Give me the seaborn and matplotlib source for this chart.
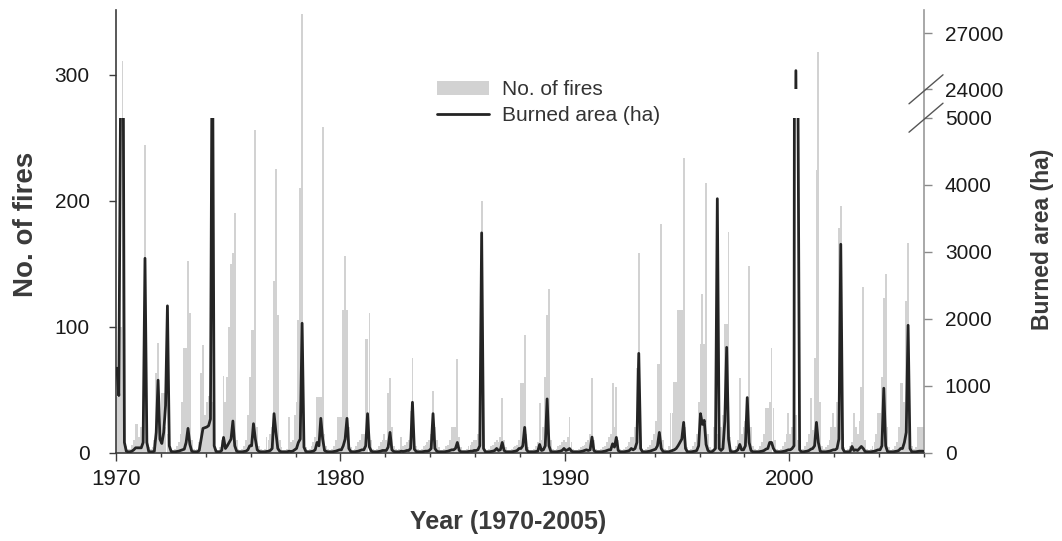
import matplotlib
matplotlib.use("Agg")
import matplotlib.pyplot as plt
import pandas as pd
import seaborn as sns
from matplotlib.patches import Patch
from matplotlib.lines import Line2D
from matplotlib.ticker import MultipleLocator

# ---------------- data (monthly, Jan..Dec, 1970-2005) ----------------
years = list(range(1970, 2006))
months = list(range(12))

fires = [
    44, 44, 100, 311, 20, 5, 3, 3, 6, 10, 23, 23,      # 1970
    12, 20, 30, 244, 15, 4, 3, 4, 10, 63, 87, 20,      # 1971
    47, 47, 20, 15, 6, 3, 2, 3, 5, 8, 15, 40,          # 1972
    83, 83, 152, 111, 10, 3, 2, 3, 8, 63, 85, 30,      # 1973
    40, 45, 50, 40, 8, 3, 2, 4, 10, 61, 40, 60,        # 1974
    100, 150, 158, 190, 10, 3, 2, 3, 5, 10, 30, 60,    # 1975
    97, 97, 256, 20, 5, 3, 2, 3, 12, 10, 15, 20,       # 1976
    136, 225, 109, 10, 4, 2, 2, 3, 28, 8, 10, 30,      # 1977
    40, 105, 210, 348, 20, 4, 2, 3, 5, 8, 12, 44,      # 1978
    44, 44, 258, 15, 5, 3, 2, 3, 5, 10, 28, 28,        # 1979
    28, 113, 156, 113, 20, 4, 2, 3, 5, 8, 10, 15,      # 1980
    15, 90, 90, 111, 10, 3, 2, 3, 5, 8, 10, 15,        # 1981
    10, 47, 59, 20, 5, 3, 2, 3, 12, 5, 6, 8,           # 1982
    10, 33, 75, 15, 5, 3, 2, 3, 5, 6, 8, 10,           # 1983
    15, 49, 20, 10, 4, 2, 2, 3, 5, 6, 10, 20,          # 1984
    20, 20, 74, 12, 4, 2, 2, 3, 5, 6, 8, 10,           # 1985
    10, 15, 25, 200, 10, 3, 2, 3, 5, 6, 8, 10,         # 1986
    8, 12, 43, 10, 4, 2, 2, 3, 4, 5, 6, 10,            # 1987
    55, 55, 93, 15, 4, 2, 2, 3, 5, 8, 39, 10,          # 1988
    20, 60, 109, 130, 10, 3, 2, 3, 5, 6, 8, 10,        # 1989
    8, 12, 28, 8, 3, 2, 2, 3, 4, 5, 6, 8,              # 1990
    10, 15, 59, 10, 3, 2, 2, 3, 4, 5, 8, 12,           # 1991
    15, 55, 20, 52, 10, 3, 2, 3, 4, 5, 8, 12,          # 1992
    12, 20, 67, 158, 10, 3, 2, 3, 4, 6, 10, 15,        # 1993
    25, 70, 70, 181, 10, 3, 2, 5, 31, 31, 56, 56,      # 1994
    113, 113, 113, 234, 20, 4, 2, 3, 5, 8, 15, 40,     # 1995
    86, 126, 86, 214, 15, 4, 3, 20, 22, 15, 10, 20,    # 1996
    30, 102, 102, 175, 12, 3, 2, 5, 10, 59, 15, 20,    # 1997
    25, 40, 148, 20, 5, 3, 2, 3, 5, 8, 15, 35,         # 1998
    35, 40, 83, 35, 10, 3, 2, 3, 5, 8, 15, 31,         # 1999
    15, 20, 25, 30, 10, 3, 2, 3, 5, 8, 15, 43,         # 2000
    18, 75, 224, 318, 40, 5, 3, 4, 6, 10, 20, 31,      # 2001
    20, 40, 178, 196, 15, 4, 2, 3, 5, 8, 31, 20,       # 2002
    15, 25, 52, 131, 10, 3, 2, 3, 5, 8, 15, 31,        # 2003
    31, 60, 123, 142, 20, 4, 2, 3, 5, 8, 20, 55,       # 2004
    55, 40, 120, 166, 20, 5, 3, 4, 20, 20, 20, 20,     # 2005
]

burned_area = [
    1260, 850, 5600, 9000, 150, 20, 10, 10, 20, 40, 70, 70,       # 1970
    70, 70, 150, 2900, 150, 15, 10, 10, 20, 300, 1080, 200,       # 1971
    135, 300, 700, 2190, 100, 15, 10, 10, 15, 20, 30, 40,         # 1972
    50, 150, 360, 120, 20, 10, 10, 10, 30, 200, 360, 370,         # 1973
    380, 400, 500, 7000, 100, 15, 10, 10, 30, 225, 60, 100,       # 1974
    150, 200, 470, 100, 20, 10, 10, 10, 15, 20, 40, 100,          # 1975
    100, 430, 200, 40, 15, 10, 10, 10, 15, 20, 30, 60,            # 1976
    580, 300, 60, 20, 10, 10, 10, 10, 20, 15, 20, 40,             # 1977
    60, 150, 200, 1930, 80, 15, 10, 10, 15, 20, 40, 150,          # 1978
    100, 510, 200, 30, 15, 10, 10, 10, 15, 20, 30, 40,            # 1979
    40, 100, 200, 510, 60, 15, 10, 10, 15, 20, 30, 40,            # 1980
    40, 100, 580, 80, 20, 10, 10, 10, 15, 20, 30, 30,             # 1981
    30, 80, 300, 40, 15, 10, 10, 10, 20, 15, 20, 30,              # 1982
    30, 60, 750, 50, 15, 10, 10, 10, 15, 20, 20, 30,              # 1983
    60, 580, 60, 20, 10, 10, 10, 10, 15, 20, 30, 40,              # 1984
    40, 60, 150, 30, 10, 10, 10, 10, 15, 20, 20, 30,              # 1985
    30, 40, 100, 3280, 60, 10, 10, 10, 15, 20, 30, 60,            # 1986
    30, 40, 150, 30, 10, 10, 10, 10, 15, 20, 30, 60,              # 1987
    60, 100, 375, 40, 10, 10, 10, 10, 15, 20, 120, 30,            # 1988
    40, 100, 800, 100, 15, 10, 10, 10, 15, 20, 30, 60,            # 1989
    30, 40, 60, 20, 10, 10, 10, 10, 15, 20, 30, 40,               # 1990
    30, 40, 230, 30, 10, 10, 10, 10, 15, 20, 30, 40,              # 1991
    40, 130, 80, 225, 30, 10, 10, 10, 15, 20, 30, 60,             # 1992
    40, 60, 150, 1480, 60, 10, 10, 10, 15, 20, 30, 40,            # 1993
    50, 100, 300, 60, 15, 10, 10, 10, 20, 30, 40, 60,             # 1994
    100, 150, 200, 450, 60, 10, 10, 10, 15, 20, 30, 100,          # 1995
    580, 420, 480, 120, 30, 10, 10, 30, 60, 3790, 60, 30,         # 1996
    60, 470, 1570, 200, 20, 10, 10, 20, 40, 120, 40, 40,          # 1997
    100, 820, 150, 30, 10, 10, 10, 10, 15, 20, 30, 50,            # 1998
    60, 150, 150, 60, 15, 10, 10, 10, 15, 20, 30, 40,             # 1999
    40, 60, 100, 25000, 6000, 40, 10, 10, 15, 20, 30, 50,         # 2000
    60, 100, 450, 150, 20, 10, 10, 10, 15, 20, 30, 40,            # 2001
    40, 60, 200, 3110, 60, 10, 10, 10, 15, 90, 30, 40,            # 2002
    30, 60, 90, 60, 15, 10, 10, 10, 15, 20, 30, 40,               # 2003
    40, 100, 960, 100, 15, 10, 10, 10, 15, 20, 30, 60,            # 2004
    60, 150, 300, 1900, 60, 10, 10, 10, 15, 20, 20, 20,           # 2005
]

year_ticks = [1970, 1980, 1990, 2000]
fire_ticks = [0, 100, 200, 300]
area_ticks_low = [0, 1000, 2000, 3000, 4000, 5000]
area_ticks_high = [24000, 27000]

time = [y + (m + 0.5) / 12 for y in years for m in months]
df = pd.DataFrame({"time": time, "fires": fires, "area": burned_area})

# ---------------- style ----------------
sns.set_style("white")
plt.rcParams["font.family"] = ["Liberation Sans", "DejaVu Sans"]

W, H = 1062, 541
fig = plt.figure(figsize=(W / 100, H / 100), dpi=100)


def fx(px):
    return px / W


def fy(py):
    return 1 - py / H


X0, X1 = 116, 924
Y0 = 452.5          # zero line
YTOP = 10
Y5000 = 117.7
Y24000 = 89.3

ax1 = fig.add_axes([fx(X0), fy(Y0), (X1 - X0) / W, (Y0 - YTOP) / H])
ax_lo = fig.add_axes([fx(X0), fy(Y0), (X1 - X0) / W, (Y0 - Y5000) / H])
ax_hi = fig.add_axes([fx(X0), fy(Y24000), (X1 - X0) / W, (Y24000 - YTOP) / H])

BAR = "#d2d2d2"
LINE = "#242424"
SPINE = "#3c3c3c"

sns.barplot(data=df, x="time", y="fires", native_scale=True, color=BAR,
            saturation=1, width=1.0, errorbar=None, linewidth=0, ax=ax1)
for a in (ax_lo, ax_hi):
    sns.lineplot(data=df, x="time", y="area", color=LINE, linewidth=2.0,
                 errorbar=None, ax=a, legend=False)

# ---- fires axis ----
ax1.set_xlim(1970, 2006)
ax1.set_ylim(0, (Y0 - YTOP) / 1.26)
ax1.set_xlabel("")
ax1.set_ylabel("")
ax1.set_yticks(fire_ticks)
ax1.set_yticklabels([str(v) for v in fire_ticks], fontsize=15, color="#1a1a1a")
ax1.set_xticks(year_ticks)
ax1.set_xticklabels([str(v) for v in year_ticks], fontsize=16, color="#1a1a1a")
ax1.xaxis.set_minor_locator(MultipleLocator(2))
ax1.tick_params(axis="y", which="major", direction="out", length=5, width=1,
                color=SPINE, pad=14, left=True, right=False)
ax1.tick_params(axis="x", which="major", direction="out", length=6, width=1,
                color=SPINE, pad=6, bottom=True)
ax1.tick_params(axis="x", which="minor", direction="out", length=3, width=1,
                color=SPINE, bottom=True)
ax1.spines["top"].set_visible(False)
ax1.spines["left"].set_color(SPINE)
ax1.spines["bottom"].set_color(SPINE)
ax1.spines["right"].set_color("#9a9a9a")
for s in ("left", "bottom", "right"):
    ax1.spines[s].set_linewidth(1.2)

# ---- burned area axes (broken) ----
for a, lim, ticks in ((ax_lo, (0, 5000), area_ticks_low),
                      (ax_hi, (24000, 24000 + (Y24000 - YTOP) / 18.67 * 1000), area_ticks_high)):
    a.set_xlim(1970, 2006)
    a.set_ylim(*lim)
    a.patch.set_visible(False)
    for s in a.spines.values():
        s.set_visible(False)
    a.xaxis.set_visible(False)
    a.yaxis.tick_right()
    a.set_yticks(ticks)
    a.set_yticklabels([str(v) for v in ticks], fontsize=15, color="#1a1a1a")
    a.tick_params(axis="y", direction="out", length=6, width=1, color="#8a8a8a",
                  pad=9, right=True, left=False)
    a.set_xlabel("")
    a.set_ylabel("")

# break marks on right axis
for yc in (Y24000, Y5000):
    fig.add_artist(Line2D([fx(909), fx(943)], [fy(yc + 14.5), fy(yc - 14.5)],
                          color="#555555", lw=1.0))

# axis titles
fig.text(fx(26), fy(224), "No. of fires", rotation=90, ha="center", va="center",
         fontsize=20, fontweight="bold", color="#3a3a3a")
fig.text(fx(1042), fy(239), "Burned area (ha)", rotation=90, ha="center", va="center",
         fontsize=16.5, fontweight="bold", color="#3a3a3a")
fig.text(fx(508), fy(522), "Year (1970-2005)", ha="center", va="center",
         fontsize=18, fontweight="bold", color="#3a3a3a")

# legend
handles = [Patch(facecolor=BAR, edgecolor="none", label="No. of fires"),
           Line2D([], [], color=LINE, lw=2.0, label="Burned area (ha)")]
fig.legend(handles=handles, loc="upper left", bbox_to_anchor=(fx(437), fy(80)),
           frameon=False, fontsize=15, handlelength=2.5, handleheight=0.65,
           handletextpad=0.6, borderpad=0, borderaxespad=0, labelspacing=0.35,
           labelcolor="#333333")

fig.savefig("out.png", dpi=100)
